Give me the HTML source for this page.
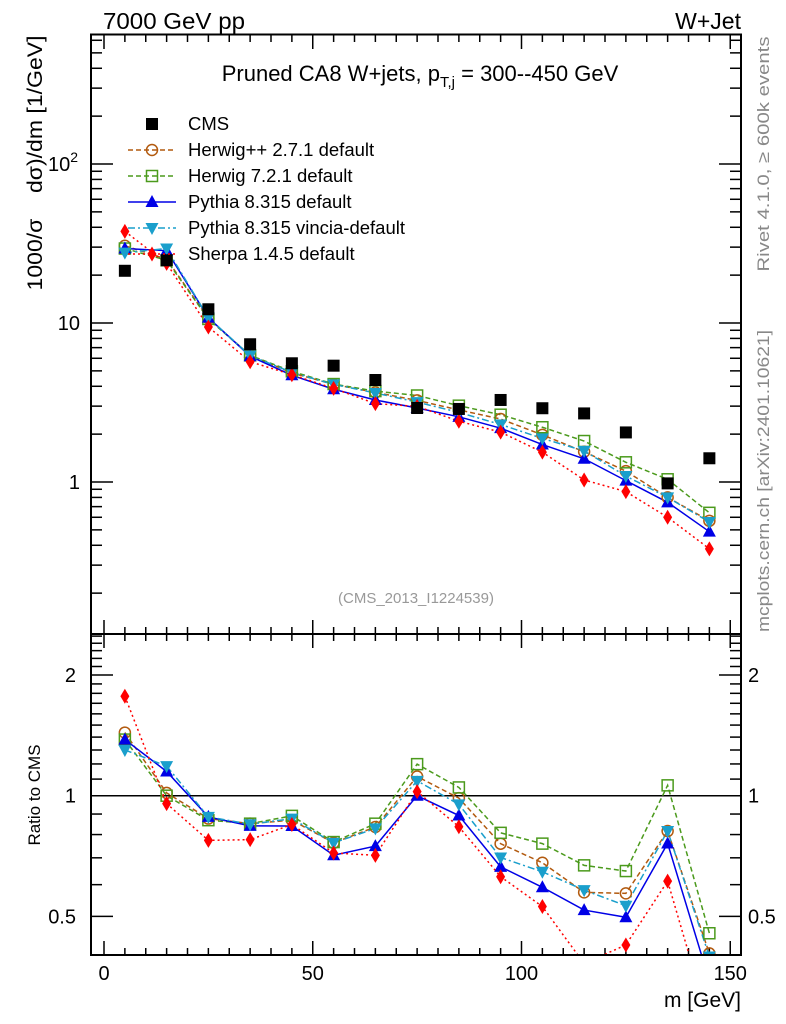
<!DOCTYPE html>
<html><head><meta charset="utf-8"><style>
html,body{margin:0;padding:0;background:#fff;}
svg{display:block;font-family:"Liberation Sans",sans-serif;}
</style></head><body>
<svg id="chart" width="786" height="1024" viewBox="0 0 786 1024" xmlns="http://www.w3.org/2000/svg">
<defs>
<clipPath id="clipMain"><rect x="91" y="34" width="650" height="600"/></clipPath>
<clipPath id="clipRatio"><rect x="91" y="634" width="650" height="321"/></clipPath>
</defs>
<rect x="0" y="0" width="786" height="1024" fill="#fff"/>
<text x="103" y="29" font-size="23" textLength="142" lengthAdjust="spacingAndGlyphs">7000 GeV pp</text>
<text x="741" y="29" font-size="23" text-anchor="end">W+Jet</text>
<text x="420" y="81" font-size="22" text-anchor="middle">Pruned CA8 W+jets, p<tspan font-size="15" dy="6">T,j</tspan><tspan dy="-6"> = 300--450 GeV</tspan></text>
<text transform="translate(42,163) rotate(-90)" font-size="21" text-anchor="middle" textLength="255" lengthAdjust="spacingAndGlyphs" xml:space="preserve">1000/σ    dσ)/dm [1/GeV]</text>
<text transform="translate(40,795) rotate(-90)" font-size="17" text-anchor="middle">Ratio to CMS</text>
<text x="741" y="1007" font-size="21" text-anchor="end">m [GeV]</text>
<text transform="translate(769,154) rotate(-90)" font-size="17" fill="#888" text-anchor="middle" textLength="235" lengthAdjust="spacingAndGlyphs">Rivet 4.1.0, ≥ 600k events</text>
<text transform="translate(769,481) rotate(-90)" font-size="17" fill="#888" text-anchor="middle" textLength="302" lengthAdjust="spacingAndGlyphs">mcplots.cern.ch [arXiv:2401.10621]</text>
<text x="416" y="603" font-size="15" fill="#999" text-anchor="middle">(CMS_2013_I1224539)</text>
<g id="axes"></g>
<g id="mainMarks" clip-path="url(#clipMain)"></g>
<g id="ratioMarks" clip-path="url(#clipRatio)"></g>
<g id="legend"></g>
<rect x="91" y="34.5" width="650" height="599.5" fill="none" stroke="#000" stroke-width="2"/>
<rect x="91" y="634" width="650" height="321" fill="none" stroke="#000" stroke-width="2"/>
</svg>
<script>
const binCenters = [5,15,25,35,45,55,65,75,85,95,105,115,125,135,145];
const cmsValues = [21.3,24.8,12.2,7.35,5.58,5.39,4.38,2.92,2.88,3.28,2.91,2.70,2.05,0.98,1.41];
const herwigppValues = [30.6,25.2,10.7,6.26,4.85,4.11,3.66,3.26,2.84,2.49,1.98,1.55,1.17,0.80,0.57];
const herwig7Values = [29.4,24.8,10.6,6.26,4.97,4.13,3.73,3.50,3.02,2.65,2.21,1.81,1.33,1.04,0.64];
const pythiaValues = [29.4,28.5,10.8,6.18,4.69,3.83,3.28,2.92,2.57,2.18,1.72,1.40,1.02,0.745,0.487];
const vinciaValues = [27.7,29.4,10.8,6.24,4.89,4.11,3.63,3.18,2.74,2.30,1.88,1.57,1.09,0.80,0.56];
const sherpaValues = [37.7,23.7,9.44,5.71,4.73,3.88,3.11,2.99,2.41,2.06,1.54,1.03,0.87,0.60,0.38];
const xTickLabels = [0,50,100,150];
const mainTickLabels = [1,10,100];
const ratioTickLabels = [0.5,1,2];

const NS = "http://www.w3.org/2000/svg";
function X(v){ return 104 + 4.175*v; }
function YM(v){ return 482 - 159*Math.log10(v); }
function YR(r){ return 795.7 - 401*Math.log10(r); }
function mk(tag, attrs, parent){ const e=document.createElementNS(NS,tag); for(const k in attrs) e.setAttribute(k,attrs[k]); parent.appendChild(e); return e; }

const axes = document.getElementById('axes');
for (let v=0; v<=150; v+=5){
  const major = v%50===0;
  const L = major?14:7;
  const x = X(v);
  [[634,-1],[955,-1],[35,1],[634,1]].forEach(([y,d])=>{
    const t = mk('line',{x1:x,x2:x,y1:y,y2:y+d*L,stroke:'#000','stroke-width':1.5},axes);
    
    
  });
}
xTickLabels.forEach(v=>{
  const t = mk('text',{x:X(v),y:980,'font-size':20,'text-anchor':'middle'},axes);
  
  
  t.textContent = v;
});
for (let e=-1; e<=2; e++){
  for (let m=1; m<=9; m++){
    const v = m*Math.pow(10,e);
    const y = YM(v);
    if (y<35||y>633) continue;
    const L = m===1?22:11;
    [[91,1],[741,-1]].forEach(([x,d])=>{
      const t = mk('line',{x1:x,x2:x+d*L,y1:y,y2:y,stroke:'#000','stroke-width':1.5},axes);
      
      
    });
  }
}
mainTickLabels.forEach(v=>{
  const t = mk('text',{x:80,y:YM(v)+7,'font-size':20,'text-anchor':'end'},axes);
  
  
  if (v===100){ t.innerHTML = '10<tspan font-size="14" dy="-9">2</tspan>'; t.setAttribute('x',78); }
  else t.textContent = v;
});
const rTicks=[0.4,0.5,0.6,0.7,0.8,0.9,1,1.1,1.2,1.3,1.4,1.5,1.6,1.7,1.8,1.9,2,2.1,2.2,2.3,2.4,2.5];
rTicks.forEach(r=>{
  const y=YR(r); if(y<635||y>954) return;
  const major = (r===0.5||r===1||r===2);
  const L = major?22:11;
  [[91,1],[741,-1]].forEach(([x,d])=>{
    const t = mk('line',{x1:x,x2:x+d*L,y1:y,y2:y,stroke:'#000','stroke-width':1.5},axes);
    
    
  });
});
ratioTickLabels.forEach(r=>{
  const t = mk('text',{x:76,y:YR(r)+7,'font-size':20,'text-anchor':'end'},axes);
  
  
  t.textContent = r;
  const t2 = mk('text',{x:748,y:YR(r)+7,'font-size':20},axes);
  
  
  t2.textContent = r;
});
const one = mk('line',{x1:91,x2:741,y1:YR(1),y2:YR(1),stroke:'#000','stroke-width':1.5},axes);



function marker(g, type, x, y, color){
  let e;
  if (type==='circle') e = mk('circle',{cx:x,cy:y,r:5.5,fill:'none',stroke:color,'stroke-width':1.5},g);
  else if (type==='osquare') e = mk('rect',{x:x-5.5,y:y-5.5,width:11,height:11,fill:'none',stroke:color,'stroke-width':1.5},g);
  else if (type==='fsquare') e = mk('rect',{x:x-6,y:y-6,width:12,height:12,fill:color},g);
  else if (type==='tup') e = mk('polygon',{points:`${x},${y-7} ${x-6.5},${y+5} ${x+6.5},${y+5}`,fill:color},g);
  else if (type==='tdown') e = mk('polygon',{points:`${x},${y+7} ${x-6.5},${y-5} ${x+6.5},${y-5}`,fill:color},g);
  else if (type==='diamond') e = mk('polygon',{points:`${x},${y-7.5} ${x-4.5},${y} ${x},${y+7.5} ${x+4.5},${y}`,fill:color},g);
  return e;
}

const series = [
  {name:'herwigpp', label:'Herwig++ 2.7.1 default', vals:herwigppValues, color:'#b25a0f', dash:'5,3', m:'circle'},
  {name:'herwig7', label:'Herwig 7.2.1 default', vals:herwig7Values, color:'#4b9a1c', dash:'5,3', m:'osquare'},
  {name:'pythia', label:'Pythia 8.315 default', vals:pythiaValues, color:'#0000e6', dash:'', m:'tup'},
  {name:'vincia', label:'Pythia 8.315 vincia-default', vals:vinciaValues, color:'#1a9fcc', dash:'7,3,2,3', m:'tdown'},
  {name:'sherpa', label:'Sherpa 1.4.5 default', vals:sherpaValues, color:'#ff0000', dash:'2,3', m:'diamond'}
];
const mainG = document.getElementById('mainMarks');
const ratioG = document.getElementById('ratioMarks');
series.forEach(s=>{
  const pm = s.vals.map((v,i)=>`${X(binCenters[i])},${YM(v)}`).join(' ');
  const lm = mk('polyline',{points:pm,fill:'none',stroke:s.color,'stroke-width':1.5,'stroke-dasharray':s.dash},mainG);
  
  
  const pr = s.vals.map((v,i)=>`${X(binCenters[i])},${YR(v/cmsValues[i])}`).join(' ');
  const lr = mk('polyline',{points:pr,fill:'none',stroke:s.color,'stroke-width':1.5,'stroke-dasharray':s.dash},ratioG);
  
  
});
series.forEach(s=>{
  s.vals.forEach((v,i)=>{
    const a = marker(mainG, s.m, X(binCenters[i]), YM(v), s.color);
    
    
    const b = marker(ratioG, s.m, X(binCenters[i]), YR(v/cmsValues[i]), s.color);
    
    
  });
});
cmsValues.forEach((v,i)=>{
  const a = marker(mainG,'fsquare',X(binCenters[i]),YM(v),'#000');
  
  
});

const lg = document.getElementById('legend');
const rowY = [124,150,176,202,228,254];
const c = marker(lg,'fsquare',152,rowY[0],'#000');


const ct = mk('text',{x:188,y:rowY[0]+6,'font-size':18.5},lg);


ct.textContent='CMS';
series.forEach((s,k)=>{
  const y = rowY[k+1];
  const l = mk('line',{x1:128,x2:176,y1:y,y2:y,stroke:s.color,'stroke-width':1.5,'stroke-dasharray':s.dash},lg);
  
  
  const m = marker(lg,s.m,152,y,s.color);
  
  
  const t = mk('text',{x:188,y:y+6,'font-size':18.5},lg);
  
  
  t.textContent = s.label;
});
</script>
</body></html>
